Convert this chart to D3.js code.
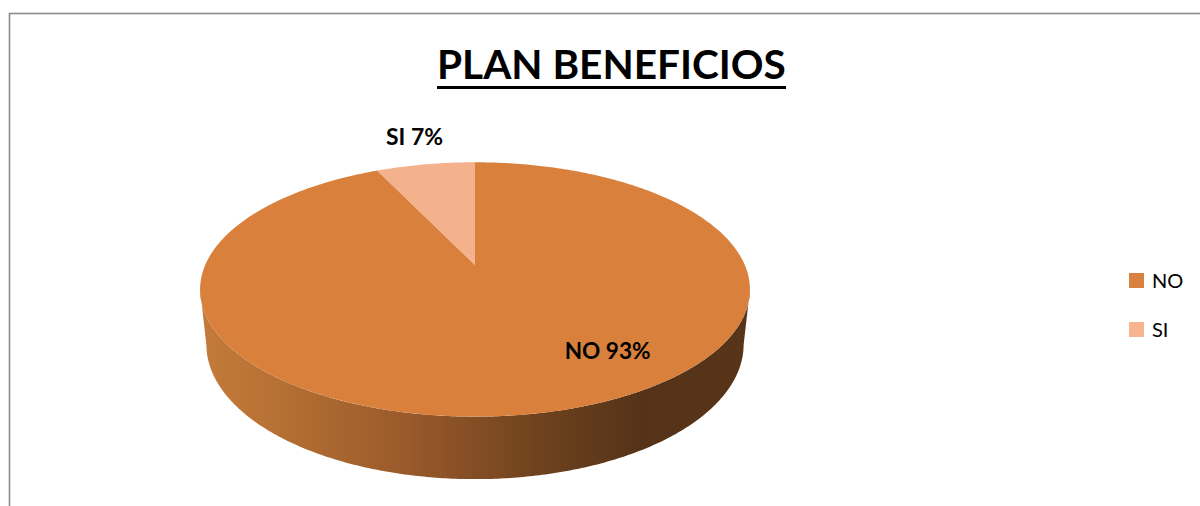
<!DOCTYPE html>
<html>
<head>
<meta charset="utf-8">
<script src="https://cdn.jsdelivr.net/npm/d3@7"></script>
<style>
  html, body { margin: 0; padding: 0; background: #fff; }
  svg { display: block; }
</style>
</head>
<body>
<svg id="chart" width="1200" height="506"></svg>
<script>
// Chart data
const categories = ["NO", "SI"];
const values = [93, 7];
const labelTexts = ["NO 93%", "SI 7%"];
const chartTitle = "PLAN BENEFICIOS";

const topColors = ["#D9803C", "#F4B28C"];
const legendColors = ["#D9823F", "#F7B48F"];

const W = 1200, H = 506;
const svg = d3.select("#chart");
const FONT = "Lato, 'Open Sans', 'Noto Sans', sans-serif";

// Chart frame
svg.append("rect")
  .attr("x", 9.5).attr("y", 13.5)
  .attr("width", W + 20).attr("height", H + 20)
  .attr("fill", "#fff")
  .attr("stroke", "#8c8c8c").attr("stroke-width", 1.6);

// --- 3D projection of a unit disc seen from above-front with perspective ---
const tilt = 27 * Math.PI / 180;
const cT = Math.cos(tilt), sT = Math.sin(tilt);
const camDist = 5.2 * cT;    // eye distance (disc radius = 1)
const focal = 1250;          // pixels per unit at depth 1
const thick = 0.23;          // slab thickness
const cx = 475, cy = 265;    // screen position of the disc centre

// angle a: clockwise from the back (12 o'clock), r: radius, h: height (0 = top face)
function project(a, r, h) {
  const u = r * Math.sin(a), v = r * Math.cos(a);
  const depth = camDist + v * cT - h * sT;
  return [cx + focal * u / depth, cy - focal * (v * sT + h * cT) / depth];
}

const pie = d3.pie().sort(null).value(d => d).startAngle(0).endAngle(2 * Math.PI);
const arcs = pie(values);

const line = d3.line();
function sampleArc(a0, a1, h) {
  const n = Math.max(2, Math.ceil(Math.abs(a1 - a0) / 0.01));
  return d3.range(n + 1).map(i => project(a0 + (a1 - a0) * i / n, 1, h));
}

// side wall gradient (light on the left, dark brown on the right)
const defs = svg.append("defs");
const xLeft = project(Math.PI * 1.5, 1, 0)[0] - 5;
const xRight = project(Math.PI * 0.5, 1, 0)[0] + 5;
const grad = defs.append("linearGradient")
  .attr("id", "wallGrad")
  .attr("gradientUnits", "userSpaceOnUse")
  .attr("x1", xLeft).attr("y1", 0).attr("x2", xRight).attr("y2", 0);
[[0, "#C47B3A"], [0.12, "#B87234"], [0.38, "#99592A"], [0.62, "#6E421E"], [0.8, "#553318"], [1, "#583519"]]
  .forEach(([o, col]) => grad.append("stop").attr("offset", o).attr("stop-color", col));

// visible outer wall range (between the silhouette points)
const aSil = Math.acos(-cT / camDist);
const visA0 = aSil, visA1 = 2 * Math.PI - aSil;

const gPie = svg.append("g");

// outer walls
arcs.forEach(d => {
  const a0 = Math.max(d.startAngle, visA0), a1 = Math.min(d.endAngle, visA1);
  if (a1 <= a0) return;
  const topEdge = sampleArc(a0, a1, 0);
  const botEdge = sampleArc(a1, a0, -thick);
  gPie.append("path")
    .attr("d", line(topEdge.concat(botEdge)) + "Z")
    .attr("fill", "url(#wallGrad)");
});

// top faces
arcs.forEach((d, i) => {
  const pts = [project(0, 0, 0)].concat(sampleArc(d.startAngle, d.endAngle, 0));
  gPie.append("path")
    .attr("d", line(pts) + "Z")
    .attr("fill", topColors[i]);
});

// --- data labels ---
function fitText(sel, targetWidth, baseSize) {
  sel.attr("font-size", baseSize);
  const w = sel.node().getComputedTextLength();
  sel.attr("font-size", baseSize * targetWidth / w);
}

// NO label sits on the top face, SI label just above the outer rim of its slice
const noAnchor = project(145 * Math.PI / 180, 0.755, 0);
const noLbl = svg.append("text")
  .attr("x", noAnchor[0]).attr("y", noAnchor[1] + 8)
  .attr("text-anchor", "middle")
  .attr("font-family", FONT).attr("font-weight", "bold")
  .attr("fill", "#000")
  .text(labelTexts[0]);
fitText(noLbl, 86, 24);

const siMid = (arcs[1].startAngle + arcs[1].endAngle) / 2;
const siRim = project(siMid, 1, 0);
const siLbl = svg.append("text")
  .attr("x", siRim[0] - 11).attr("y", siRim[1] - 19)
  .attr("text-anchor", "middle")
  .attr("font-family", FONT).attr("font-weight", "bold")
  .attr("fill", "#000")
  .text(labelTexts[1]);
fitText(siLbl, 57, 22);

// --- title ---
const titleX0 = 437, titleW = 349;
const title = svg.append("text")
  .attr("x", titleX0).attr("y", 79)
  .attr("font-family", FONT).attr("font-weight", "bold")
  .attr("fill", "#000")
  .text(chartTitle);
fitText(title, titleW, 46);
svg.append("rect")
  .attr("x", titleX0).attr("y", 86)
  .attr("width", titleW).attr("height", 3)
  .attr("fill", "#000");

// --- legend ---
const legend = svg.append("g").attr("transform", "translate(1129,273)");
const legRows = legend.selectAll("g").data(categories).join("g")
  .attr("transform", (d, i) => `translate(0,${i * 49})`);
legRows.append("rect")
  .attr("width", 15).attr("height", 15)
  .attr("fill", (d, i) => legendColors[i]);
legRows.append("text")
  .attr("x", 23).attr("y", 14.5)
  .attr("font-family", FONT).attr("font-size", 20)
  .attr("fill", "#000")
  .text(d => d);
</script>
</body>
</html>
